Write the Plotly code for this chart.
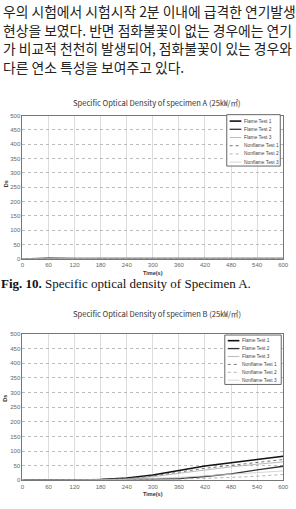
import plotly.graph_objects as go

W, H = 296, 509

# ---------------- data ----------------
time_s = [0, 60, 120, 180, 240, 300, 360, 420, 480, 540, 600]
series_names = ["Flame Test 1", "Flame Test 2", "Flame Test 3",
                "Nonflame Test 1", "Nonflame Test 2", "Nonflame Test 3"]

a_flame1 = [0, 2, 1, 1, 1, 1, 1, 1, 1, 1, 1]
a_flame2 = [0, 1, 1, 1, 1, 1, 1, 1, 1, 1, 1]
a_flame3 = [0, 1, 1, 0, 0, 0, 0, 0, 0, 0, 0]
a_nonflame1 = [0, 1, 1, 1, 0, 0, 0, 0, 0, 0, 0]
a_nonflame2 = [0, 0, 0, 0, 0, 0, 0, 0, 0, 0, 0]
a_nonflame3 = [0, 0, 0, 0, 0, 0, 0, 0, 0, 0, 0]

b_flame1 = [0, 0, 1, 3, 8, 18, 34, 49, 60, 71, 82]
b_flame2 = [0, 1, 0, 1, 2, 3, 6, 13, 22, 36, 48]
b_flame3 = [0, 0, 1, 2, 5, 12, 24, 36, 46, 55, 63]
b_nonflame1 = [0, 0, 0, 2, 6, 15, 28, 41, 51, 61, 71]
b_nonflame2 = [0, 0, 0, 0, 1, 2, 4, 6, 10, 14, 20]
b_nonflame3 = [0, 0, 0, 1, 3, 6, 10, 15, 20, 26, 32]

x_ticks = [0, 60, 120, 180, 240, 300, 360, 420, 480, 540, 600]
y_ticks = [0, 50, 100, 150, 200, 250, 300, 350, 400, 450, 500]

title_a = "Specific Optical Density of specimen A (25㎾/㎡)"
title_b = "Specific Optical Density of specimen B (25㎾/㎡)"
caption_a = "<b>Fig. 10.</b> Specific optical density of Specimen A."
body_lines = [
    "우의 시험에서 시험시작 2분 이내에 급격한 연기발생",
    "현상을 보였다. 반면 점화불꽃이 없는 경우에는 연기",
    "가 비교적 천천히 발생되어, 점화불꽃이 있는 경우와",
    "다른 연소 특성을 보여주고 있다.",
]

styles = [
    dict(color="#111111", width=1.6, dash="solid"),
    dict(color="#333333", width=1.3, dash="solid"),
    dict(color="#aaaaaa", width=0.8, dash="solid"),
    dict(color="#666666", width=0.9, dash="dot"),
    dict(color="#aaaaaa", width=0.9, dash="dot"),
    dict(color="#cccccc", width=0.8, dash="solid"),
]


def px(x, y):
    return x / W, 1 - y / H


fig = go.Figure()

a_data = [a_flame1, a_flame2, a_flame3, a_nonflame1, a_nonflame2, a_nonflame3]
b_data = [b_flame1, b_flame2, b_flame3, b_nonflame1, b_nonflame2, b_nonflame3]
for name, vals, st in zip(series_names, a_data, styles):
    fig.add_trace(go.Scatter(x=time_s, y=vals, mode="lines", name=name,
                             line=st, xaxis="x", yaxis="y", showlegend=False))
for name, vals, st in zip(series_names, b_data, styles):
    fig.add_trace(go.Scatter(x=time_s, y=vals, mode="lines", name=name,
                             line=st, xaxis="x2", yaxis="y2", showlegend=False))

# plot geometry (pixels)
pl, pr = 21, 289
a_top, a_bot = 114, 259
b_top, b_bot = 335, 483

axis_common = dict(showline=True, linecolor="#777777", linewidth=1, mirror=True,
                   zeroline=False, ticks="", tickfont=dict(size=6, color="#666666",
                                                           family="Arial"))
xcommon = dict(axis_common, range=[0, 600], tickvals=x_ticks, showgrid=True,
               gridcolor="#dddddd", gridwidth=1)
ycommon = dict(axis_common, range=[0, 500], tickvals=y_ticks, showgrid=True,
               gridcolor="#bbbbbb", gridwidth=1, griddash="dot")

fig.update_layout(
    width=W, height=H, autosize=False,
    margin=dict(l=0, r=0, t=0, b=0),
    paper_bgcolor="white", plot_bgcolor="white",
    showlegend=False,
    xaxis=dict(xcommon, domain=[pl / W, pr / W], anchor="y"),
    yaxis=dict(ycommon, domain=[1 - a_bot / H, 1 - a_top / H], anchor="x"),
    xaxis2=dict(xcommon, domain=[pl / W, pr / W], anchor="y2"),
    yaxis2=dict(ycommon, domain=[1 - b_bot / H, 1 - b_top / H], anchor="x2"),
)

ann = []
shapes = []

# body text
for i, line in enumerate(body_lines):
    x, y = px(-1, 8 + 19 * i)
    ann.append(dict(x=x, y=y, xref="paper", yref="paper", text=line,
                    showarrow=False, xanchor="left", yanchor="middle",
                    font=dict(family="Noto Sans CJK KR", size=13.8, color="#222222")))

# chart titles
for ttl, yy in [(title_a, 101), (title_b, 314)]:
    x, y = px(159, yy)
    ann.append(dict(x=x, y=y, xref="paper", yref="paper", text=ttl, showarrow=False,
                    xanchor="center", yanchor="middle",
                    font=dict(family="Noto Sans CJK KR", size=7.6, color="#333333")))

# axis titles
for yy, ds_y in [(273, 183), (497, 400)]:
    x, y = px(155, yy)
    ann.append(dict(x=x, y=y, xref="paper", yref="paper", text="<b>Time(s)</b>",
                    showarrow=False, xanchor="center", yanchor="middle",
                    font=dict(family="Arial", size=5.5, color="#333333")))
    x, y = px(3.5, ds_y)
    ann.append(dict(x=x, y=y, xref="paper", yref="paper", text="<b>Ds</b>",
                    showarrow=False, xanchor="center", yanchor="middle", textangle=-90,
                    font=dict(family="Arial", size=5.5, color="#333333")))

# caption
x, y = px(-3, 284)
ann.append(dict(x=x, y=y, xref="paper", yref="paper", text=caption_a, showarrow=False,
                xanchor="left", yanchor="middle",
                font=dict(family="Liberation Serif", size=13, color="#111111")))

# manual legends
for (bx0, by0, bx1, by1, first_y, step) in [(231, 113, 286, 165, 119.5, 8.3),
                                             (229, 336, 287, 386, 341.7, 8.0)]:
    x0, y0 = px(bx0, by0)
    x1, y1 = px(bx1, by1)
    shapes.append(dict(type="rect", xref="paper", yref="paper", x0=x0, y0=y1, x1=x1, y1=y0,
                       line=dict(color="#666666", width=1), fillcolor="white"))
    for i, (name, st) in enumerate(zip(series_names, styles)):
        yy = first_y + step * i
        lx0, ly = px(bx0 + 3, yy)
        lx1, _ = px(bx0 + 15, yy)
        shapes.append(dict(type="line", xref="paper", yref="paper", x0=lx0, x1=lx1,
                           y0=ly, y1=ly, line=st))
        tx, ty = px(bx0 + 16, yy)
        ann.append(dict(x=tx, y=ty, xref="paper", yref="paper", text=name,
                        showarrow=False, xanchor="left", yanchor="middle",
                        font=dict(family="Arial", size=4.8, color="#444444")))

fig.update_layout(annotations=ann, shapes=shapes)
fig.write_html("out.html")
